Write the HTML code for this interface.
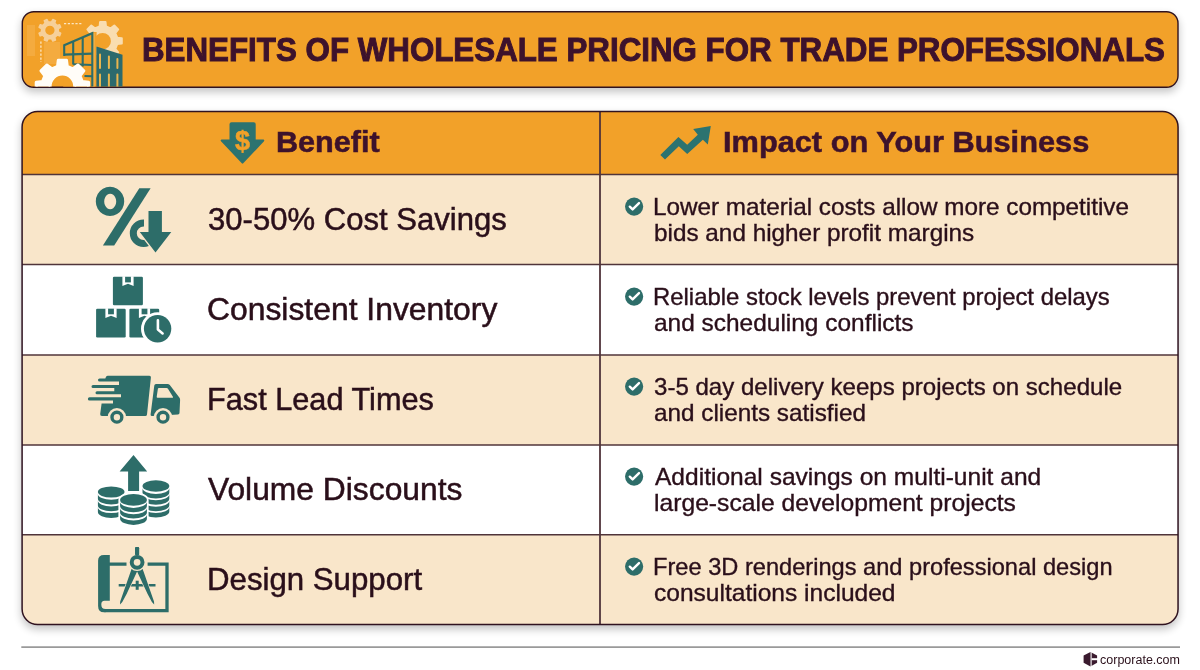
<!DOCTYPE html>
<html lang="en">
<head>
<meta charset="utf-8">
<title>Benefits of Wholesale Pricing for Trade Professionals</title>
<style>
*{box-sizing:border-box;margin:0;padding:0}
html,body{width:1200px;height:670px;background:#fff;overflow:hidden}
body{position:relative;font-family:"Liberation Sans",sans-serif;color:#2a0f1a}
.t{position:absolute;white-space:nowrap;line-height:1;height:1em;transform-origin:0 0}
.b{font-weight:700;color:#3d122c;-webkit-text-stroke:1px #3d122c}
.h{-webkit-text-stroke:.55px #3d122c}
.l{-webkit-text-stroke:.5px #2a0f1a}
.r{-webkit-text-stroke:.35px #2a0f1a}
.ov{position:absolute;left:0;top:0;pointer-events:none}
</style>
</head>
<body>
<svg class="ov" width="1200" height="670" viewBox="0 0 1200 670">
<defs><filter id="sh" x="-5%" y="-30%" width="110%" height="180%"><feGaussianBlur in="SourceAlpha" stdDeviation="4"/><feOffset dy="4"/><feComponentTransfer><feFuncA type="linear" slope=".24"/></feComponentTransfer></filter>
<clipPath id="tc"><rect x="22.1" y="111.4" width="1155.95" height="513.1" rx="15.5"/></clipPath></defs>
<rect x="21.5" y="11" width="1157.3" height="77" rx="12" filter="url(#sh)"/>
<rect x="21.3" y="110.6" width="1157.5" height="514.6" rx="16" filter="url(#sh)"/>
<rect x="22.3" y="11.7" width="1155.7" height="75.6" rx="11.5" fill="#f2a129" stroke="#301320" stroke-width="1.4"/>
<g clip-path="url(#tc)">
<rect x="20" y="110" width="1160" height="64.6" fill="#f2a129"/>
<rect x="20" y="174.6" width="1160" height="90" fill="#f9e6ca"/>
<rect x="20" y="264.6" width="1160" height="90.4" fill="#fff"/>
<rect x="20" y="355" width="1160" height="90" fill="#f9e6ca"/>
<rect x="20" y="445" width="1160" height="89.8" fill="#fff"/>
<rect x="20" y="534.8" width="1160" height="95" fill="#f9e6ca"/>
<path d="M20 174.6H1180" stroke="#50343a" stroke-width="1.5"/>
<path d="M20 264.6H1180" stroke="#50343a" stroke-width="1.5"/>
<path d="M20 355.0H1180" stroke="#50343a" stroke-width="1.5"/>
<path d="M20 445.0H1180" stroke="#50343a" stroke-width="1.5"/>
<path d="M20 534.8H1180" stroke="#50343a" stroke-width="1.5"/>
<path d="M600 110V630" stroke="#50343a" stroke-width="1.8"/>
</g>
<rect x="22.1" y="111.4" width="1155.95" height="513.1" rx="15.5" fill="none" stroke="#301320" stroke-width="1.5"/>
<path d="M21.3 647.1H1180" stroke="#9a9a9a" stroke-width="1.8"/>
<defs><clipPath id="bc"><rect x="23.05" y="12.45" width="1154.2" height="74.1" rx="10.8"/></clipPath></defs>
<g clip-path="url(#bc)">
<rect x="27" y="25" width="8" height="31" fill="#f6b95c" opacity=".45"/>
<rect x="44" y="42" width="16" height="22" fill="#f6b95c" opacity=".45"/>
<path fill="#f6d09a" fill-rule="evenodd" stroke="#f6d09a" stroke-width="1.5" stroke-linejoin="round" d="M58.3 32.0 L60.7 33.2 L59.6 35.9 L57.1 35.1 L54.7 37.5 L55.5 40.0 L52.8 41.1 L51.6 38.7 L48.2 38.7 L47.0 41.1 L44.3 40.0 L45.1 37.5 L42.7 35.1 L40.2 35.9 L39.1 33.2 L41.5 32.0 L41.5 28.6 L39.1 27.4 L40.2 24.7 L42.7 25.5 L45.1 23.1 L44.3 20.6 L47.0 19.5 L48.2 21.9 L51.6 21.9 L52.8 19.5 L55.5 20.6 L54.7 23.1 L57.1 25.5 L59.6 24.7 L60.7 27.4 L58.3 28.6Z M44.5 30.3 a5.4 5.4 0 1 0 10.8 0 a5.4 5.4 0 1 0 -10.8 0Z"/>
<path fill="#f9ddb0" fill-rule="evenodd" stroke="#f9ddb0" stroke-width="2" stroke-linejoin="round" d="M117.2 37.7 L121.8 38.2 L121.8 43.6 L117.2 44.1 L115.3 48.8 L118.2 52.4 L114.3 56.3 L110.7 53.4 L106.0 55.3 L105.5 59.9 L100.1 59.9 L99.6 55.3 L94.9 53.4 L91.3 56.3 L87.4 52.4 L90.3 48.8 L88.4 44.1 L83.8 43.6 L83.8 38.2 L88.4 37.7 L90.3 33.0 L87.4 29.4 L91.3 25.5 L94.9 28.4 L99.6 26.5 L100.1 21.9 L105.5 21.9 L106.0 26.5 L110.7 28.4 L114.3 25.5 L118.2 29.4 L115.3 33.0Z M93.3 41.2 a9.3 9.3 0 1 0 18.6 0 a9.3 9.3 0 1 0 -18.6 0Z"/>
<path d="M64 23.7H83" stroke="#fbe6c4" stroke-width="1.3" stroke-dasharray="2.2 1.6"/>
<path d="M40.9 41.5V62" stroke="#fbe6c4" stroke-width="1.3" stroke-dasharray="2.2 1.8"/>
<path d="M63.2 44.6L92.8 32.1L96.6 32.1V90H63.2Z" fill="#f2a129"/><path d="M93.6 33V90" stroke="#eeb04a" stroke-width="2.4"/>
<g stroke="#2d6d69" stroke-width="2.1" fill="none" stroke-linejoin="miter">
<path d="M64.2 56V45.3L92.3 33.2V90"/>
<path d="M73.2 41.6V64.5M82.7 37.5V66.5"/>
<path d="M64.2 54.6L92.3 53.6M73.2 64.3L92.3 65M84.5 76L92.3 76.3"/>
</g>
<path d="M96.4 46.4L122.5 54.8V90H96.4Z" fill="#2b6a6d"/>
<g stroke="#e9b54e" stroke-width="2" stroke-linecap="round">
<path d="M100 54.5V68M108.9 56.5V68M117.4 59V68M100 74.5V88M108.9 74.5V88M117.4 74.5V88"/>
</g>
<path fill="#fffdf8" fill-rule="evenodd" stroke="#fffdf8" stroke-width="3" stroke-linejoin="round" d="M67.3 106.3 L66.5 112.6 L58.3 112.6 L57.5 106.3 L51.8 104.0 L46.8 107.8 L41.0 102.0 L44.8 97.0 L42.5 91.3 L36.2 90.5 L36.2 82.3 L42.5 81.5 L44.8 75.8 L41.0 70.8 L46.8 65.0 L51.8 68.8 L57.5 66.5 L58.3 60.2 L66.5 60.2 L67.3 66.5 L73.0 68.8 L78.0 65.0 L83.8 70.8 L80.0 75.8 L82.3 81.5 L88.6 82.3 L88.6 90.5 L82.3 91.3 L80.0 97.0 L83.8 102.0 L78.0 107.8 L73.0 104.0Z M50.1 86.4 a12.3 12.3 0 1 0 24.6 0 a12.3 12.3 0 1 0 -24.6 0Z"/>
</g>
<path fill="#2c7370" stroke="#2c7370" stroke-width="2" stroke-linejoin="round" d="M231.5 123.2H253.7Q254.7 123.2 254.7 124.2V140.6H263.3L242.5 162.6L221.7 140.6H230.5V124.2Q230.5 123.2 231.5 123.2Z"/>
<text x="242.4" y="150" text-anchor="middle" font-family="Liberation Sans,sans-serif" font-weight="700" font-size="27" fill="#f2a129" stroke="#f2a129" stroke-width=".5">$</text>
<path fill="#2c7370" d="M660.3 155L678.4 137L687.2 144.8L697.8 134.7L693.2 129.1L710.8 125.9L707.8 144.4L702.9 139.8L687.2 154.1L678.8 146.2L665 159.6Z"/>
<g fill="#2d6d69">
<path fill-rule="evenodd" d="M110 186.8a14.2 14.6 0 1 0 .01 0Z M110.2 193.8a6 7.7 0 1 0 .01 0Z"/>
<path d="M139.3 188.2H150.6L114.2 245.5H102.9Z"/>
</g>
<circle cx="143.6" cy="233.2" r="10.3" fill="none" stroke="#2d6d69" stroke-width="7"/>
<path d="M148.5 211H161.9V232.1H171.3L155.5 252.6L139.8 232.1H148.5Z" fill="#f9e6ca" stroke="#f9e6ca" stroke-width="2.6" stroke-linejoin="miter"/>
<rect x="144" y="214" width="5" height="17.5" fill="#f9e6ca"/>
<path d="M148.5 211H161.9V232.1H171.3L155.5 252.6L139.8 232.1H148.5Z" fill="#2d6d69"/>
<rect x="112.9" y="276.8" width="30.0" height="28.5" rx="1.2" fill="#2d6d69"/><path d="M122.4 276.3h11.2v9.7l-5.6 -2.2l-5.6 2.2Z" fill="#fff"/><rect x="125.1" y="276.8" width="5.8" height="5.6" fill="#2d6d69"/>
<rect x="96.1" y="308.7" width="29.6" height="28.8" rx="1.2" fill="#2d6d69"/><path d="M105.4 308.2h11.2v9.7l-5.6 -2.2l-5.6 2.2Z" fill="#fff"/><rect x="108.1" y="308.7" width="5.8" height="5.6" fill="#2d6d69"/>
<rect x="129.4" y="308.7" width="29.8" height="28.8" rx="1.2" fill="#2d6d69"/><path d="M138.9 308.2h11.2v9.7l-5.6 -2.2l-5.6 2.2Z" fill="#fff"/><rect x="141.6" y="308.7" width="5.8" height="5.6" fill="#2d6d69"/>
<circle cx="157.6" cy="328.8" r="16.6" fill="#fff"/>
<circle cx="157.6" cy="328.8" r="13.7" fill="#2d6d69"/>
<path d="M157.9 320.3V329.6L162.6 333.4" fill="none" stroke="#fff" stroke-width="2.6" stroke-linecap="round" stroke-linejoin="round"/>
<g fill="#2d6d69">
<path d="M107.5 375.8H149.4Q151.1 375.8 150.9 377.4L147 414.6Q146.8 416.1 145.3 416.1H102Q99.9 416.1 100.2 414L101.6 403.5H113V400.5H89.5a1.6 1.6 0 0 1 0 -3.2H121V394.2H97a1.5 1.5 0 0 1 0 -3H114.3V388.1H93a1.5 1.5 0 0 1 0 -3H119V381.6H99.6a1.6 1.6 0 0 1 0 -3.2H105.3Q105.9 375.8 107.5 375.8Z"/>
<path d="M156 383.9H167.5Q168.9 383.9 169.8 385.1L179.5 397.8Q180.2 398.8 180.1 400L179.5 413Q179.4 414.4 178 414.5L152.2 416.1Q150.4 416.2 150.6 414.4L154.3 385.4Q154.5 383.9 156 383.9Z"/>
</g>
<path d="M158.9 387.9H166.6Q167.4 387.9 167.8 388.6L172.9 396.8Q173.4 397.7 172.4 397.7H157.6Q156.5 397.7 156.7 396.7L157.9 388.8Q158 387.9 158.9 387.9Z" fill="#f9e6ca"/>
<circle cx="116.9" cy="417.2" r="9.2" fill="#f9e6ca"/>
<circle cx="116.9" cy="417.2" r="4.9" fill="none" stroke="#2d6d69" stroke-width="3.4"/>
<circle cx="163.0" cy="417.2" r="9.2" fill="#f9e6ca"/>
<circle cx="163.0" cy="417.2" r="4.9" fill="none" stroke="#2d6d69" stroke-width="3.4"/>
<path d="M133.5 455.1L147.2 471.6H139.1V491H128.1V471.6H119.6Z" fill="#2d6d69"/>
<path d="M97.9 507.3a13.3 5.8 0 0 0 26.6 0v4.8a13.3 5.8 0 0 1 -26.6 0Z" fill="#2d6d69"/><path d="M97.9 500.6a13.3 5.8 0 0 0 26.6 0v4.8a13.3 5.8 0 0 1 -26.6 0Z" fill="#2d6d69"/><path d="M97.9 493.9a13.3 5.8 0 0 0 26.6 0v4.8a13.3 5.8 0 0 1 -26.6 0Z" fill="#2d6d69"/><ellipse cx="111.2" cy="492.0" rx="13.3" ry="5.5" fill="#2d6d69"/>
<path d="M142.5 507.1a13.4 6.0 0 0 0 26.8 0v4.5a13.4 6.0 0 0 1 -26.8 0Z" fill="#2d6d69"/><path d="M142.5 500.7a13.4 6.0 0 0 0 26.8 0v4.5a13.4 6.0 0 0 1 -26.8 0Z" fill="#2d6d69"/><path d="M142.5 494.3a13.4 6.0 0 0 0 26.8 0v4.5a13.4 6.0 0 0 1 -26.8 0Z" fill="#2d6d69"/><path d="M142.5 487.9a13.4 6.0 0 0 0 26.8 0v4.5a13.4 6.0 0 0 1 -26.8 0Z" fill="#2d6d69"/><ellipse cx="155.9" cy="486.0" rx="13.4" ry="5.7" fill="#2d6d69"/>
<path d="M120.1 499.9a13.4 6.1 0 0 1 26.8 0v18.9a13.4 6.1 0 0 1 -26.8 0Z" fill="#fff" stroke="#fff" stroke-width="3.4"/><path d="M120.1 514.4a13.4 6.1 0 0 0 26.8 0v4.4a13.4 6.1 0 0 1 -26.8 0Z" fill="#2d6d69"/><path d="M120.1 508.1a13.4 6.1 0 0 0 26.8 0v4.4a13.4 6.1 0 0 1 -26.8 0Z" fill="#2d6d69"/><path d="M120.1 501.8a13.4 6.1 0 0 0 26.8 0v4.4a13.4 6.1 0 0 1 -26.8 0Z" fill="#2d6d69"/><ellipse cx="133.5" cy="499.9" rx="13.4" ry="5.8" fill="#2d6d69"/>
<g fill="none" stroke="#2d6d69" stroke-width="3.3">
<path d="M109 564.1H126.5M147.6 564.1H167V610.6H104.5"/>
</g>
<path d="M104 554.9H109.8V600.8H104.5Q101.3 600.8 101.3 604.5Q101.3 609 105.5 609V612.3H104Q98.1 612.3 98.1 606V560.5Q98.1 554.9 104 554.9Z" fill="#2d6d69"/>
<path d="M118.7 585.3H155.5" stroke="#2d6d69" stroke-width="2.6" fill="none"/>
<path d="M137.2 580.7V589.8" stroke="#2d6d69" stroke-width="3" fill="none"/>
<path d="M132.6 566L120.2 601.5L120 604.6L122.3 602L126.6 594.1L137.1 571.6L147.6 594.1L151.9 602L154.2 604.6L154 601.5L141.6 566Z" fill="#f9e6ca" stroke="#f9e6ca" stroke-width="1.3" stroke-linejoin="round"/>
<path d="M132.6 566L120.2 601.5L120 604.6L122.3 602L126.6 594.1L137.1 571.6L147.6 594.1L151.9 602L154.2 604.6L154 601.5L141.6 566Z" fill="#2d6d69"/>
<rect x="135.1" y="547.1" width="4" height="9" rx="1.2" fill="#2d6d69"/>
<circle cx="137.1" cy="562.3" r="8.6" fill="#f9e6ca"/>
<circle cx="137.1" cy="562.3" r="5.4" fill="#f9e6ca" stroke="#2d6d69" stroke-width="4"/>
<rect x="135.1" y="547.1" width="4" height="8.5" rx="1.2" fill="#2d6d69"/>
<circle cx="634.1" cy="206.6" r="9.1" fill="#2d6d69"/>
<path d="M629.8 206.7L632.6 209.4L639 203.1" fill="none" stroke="#fff" stroke-width="2.4" stroke-linecap="round" stroke-linejoin="round"/>
<circle cx="634.1" cy="296.6" r="9.1" fill="#2d6d69"/>
<path d="M629.8 296.7L632.6 299.4L639 293.1" fill="none" stroke="#fff" stroke-width="2.4" stroke-linecap="round" stroke-linejoin="round"/>
<circle cx="634.1" cy="386.6" r="9.1" fill="#2d6d69"/>
<path d="M629.8 386.7L632.6 389.4L639 383.1" fill="none" stroke="#fff" stroke-width="2.4" stroke-linecap="round" stroke-linejoin="round"/>
<circle cx="634.1" cy="476.6" r="9.1" fill="#2d6d69"/>
<path d="M629.8 476.7L632.6 479.4L639 473.1" fill="none" stroke="#fff" stroke-width="2.4" stroke-linecap="round" stroke-linejoin="round"/>
<circle cx="634.1" cy="566.6" r="9.1" fill="#2d6d69"/>
<path d="M629.8 566.7L632.6 569.4L639 563.1" fill="none" stroke="#fff" stroke-width="2.4" stroke-linecap="round" stroke-linejoin="round"/>
<path d="M1090.5 651.9L1097.1 655.6V662.8L1090.5 666.5L1083.6 662.8V655.6Z" fill="#3a1a2e"/>
<path d="M1091.1 651V667.5" stroke="#fff" stroke-width="1.1"/>
<path d="M1091.6 659.2H1098" stroke="#fff" stroke-width="2"/>
</svg>
<h1 class="t b" id="title" style="font-size:33.6px;letter-spacing:0px;left:142px;top:32.86px;transform:scaleX(0.9325)">BENEFITS OF WHOLESALE PRICING FOR TRADE PROFESSIONALS</h1>
<div class="t b h" id="h1" style="font-size:30px;letter-spacing:0px;left:276px;top:126.91px;transform:scaleX(1.0202)">Benefit</div>
<div class="t b h" id="h2" style="font-size:30px;letter-spacing:0px;left:722.5px;top:126.91px;transform:scaleX(1.025)">Impact on Your Business</div>
<div class="t l" id="l0" style="font-size:30.5px;letter-spacing:0px;left:208px;top:204.48px;transform:scaleX(1.0189)">30-50% Cost Savings</div>
<div class="t r" id="a0" style="font-size:23.6px;letter-spacing:0px;left:652.5px;top:196.32px;transform:scaleX(1.0283)">Lower material costs allow more competitive</div>
<div class="t r" id="b0" style="font-size:23.6px;letter-spacing:0px;left:653.5px;top:222.32px;transform:scaleX(1.0303)">bids and higher profit margins</div>
<div class="t l" id="l1" style="font-size:30.5px;letter-spacing:0px;left:206.5px;top:294.48px;transform:scaleX(1.0443)">Consistent Inventory</div>
<div class="t r" id="a1" style="font-size:23.6px;letter-spacing:0px;left:652.5px;top:286.32px;transform:scaleX(1.0123)">Reliable stock levels prevent project delays</div>
<div class="t r" id="b1" style="font-size:23.6px;letter-spacing:0px;left:653.5px;top:312.32px;transform:scaleX(1.0361)">and scheduling conflicts</div>
<div class="t l" id="l2" style="font-size:30.5px;letter-spacing:0px;left:207px;top:384.48px;transform:scaleX(1.0062)">Fast Lead Times</div>
<div class="t r" id="a2" style="font-size:23.6px;letter-spacing:0px;left:653.5px;top:376.32px;transform:scaleX(1.0198)">3-5 day delivery keeps projects on schedule</div>
<div class="t r" id="b2" style="font-size:23.6px;letter-spacing:0px;left:653.5px;top:402.32px;transform:scaleX(1.0294)">and clients satisfied</div>
<div class="t l" id="l3" style="font-size:30.5px;letter-spacing:0px;left:207.5px;top:474.48px;transform:scaleX(1.0421)">Volume Discounts</div>
<div class="t r" id="a3" style="font-size:23.6px;letter-spacing:0px;left:654.5px;top:466.32px;transform:scaleX(1.0405)">Additional savings on multi-unit and</div>
<div class="t r" id="b3" style="font-size:23.6px;letter-spacing:0px;left:653.5px;top:492.32px;transform:scaleX(1.0454)">large-scale development projects</div>
<div class="t l" id="l4" style="font-size:30.5px;letter-spacing:0px;left:207px;top:564.48px;transform:scaleX(1.0231)">Design Support</div>
<div class="t r" id="a4" style="font-size:23.6px;letter-spacing:0px;left:652.5px;top:556.32px;transform:scaleX(1.0011)">Free 3D renderings and professional design</div>
<div class="t r" id="b4" style="font-size:23.6px;letter-spacing:0px;left:653.5px;top:582.32px;transform:scaleX(1.0402)">consultations included</div>
<div class="t" id="brand" style="font-size:12.5px;letter-spacing:0px;left:1100px;top:653.72px;transform:scaleX(1.001)">corporate.com</div>
</body>
</html>
